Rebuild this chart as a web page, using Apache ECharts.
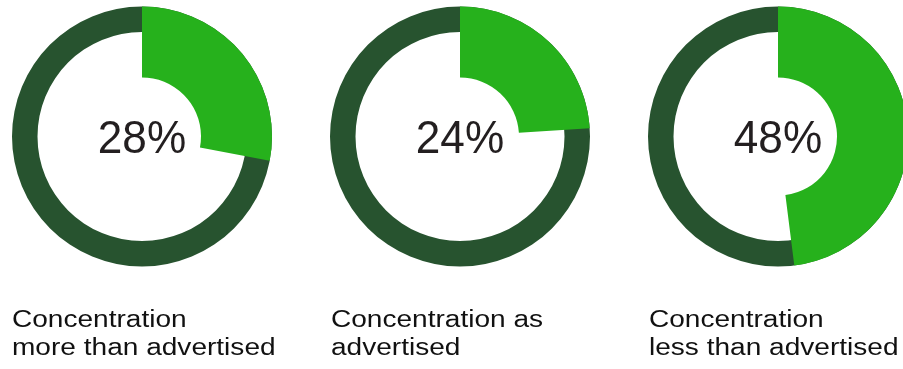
<!DOCTYPE html>
<html>
<head>
<meta charset="utf-8">
<script src="https://cdn.jsdelivr.net/npm/echarts@6/dist/echarts.min.js"></script>
<style>
  html, body { margin: 0; padding: 0; background: #ffffff; }
  #chart { width: 903px; height: 369px; }
</style>
</head>
<body>
<div id="chart"></div>
<script>
// Share of samples in each concentration group (percent)
const categories = [
  'Concentration\nmore than advertised',
  'Concentration as\nadvertised',
  'Concentration\nless than advertised'
];
const shares = [28, 24, 48];

const centersX = [142, 460, 778];
const centerY = 136.5;
const labelX = [12, 331, 649];

const DARK = '#27532f';
const BRIGHT = '#26b11c';
const TEXT = '#231f20';

const series = [];
shares.forEach(function (v, i) {
  // full dark ring underneath
  series.push({
    type: 'pie',
    center: [centersX[i], centerY],
    radius: [104.5, 130],
    silent: true,
    animation: false,
    label: { show: false },
    labelLine: { show: false },
    emphasis: { disabled: true },
    data: [{ value: 100, itemStyle: { color: DARK } }]
  });
  // highlighted share as a thick slice starting at 12 o'clock
  series.push({
    type: 'pie',
    center: [centersX[i], centerY],
    radius: [59, 130],
    startAngle: 90,
    clockwise: true,
    silent: true,
    animation: false,
    label: { show: false },
    labelLine: { show: false },
    emphasis: { disabled: true },
    data: [
      { value: v, itemStyle: { color: BRIGHT } },
      { value: 100 - v, itemStyle: { color: 'rgba(0,0,0,0)' } }
    ]
  });
});

// percentage in the middle of each ring
const centerLabels = shares.map(function (v, i) {
  return {
    type: 'text',
    x: centersX[i],
    y: 140,
    scaleX: 0.96,
    silent: true,
    style: {
      text: v + '%',
      fill: TEXT,
      font: '46px "Liberation Sans", Arial, sans-serif',
      align: 'center',
      verticalAlign: 'middle'
    }
  };
});

// two-line caption under each ring
const captions = categories.map(function (name, i) {
  return {
    type: 'text',
    x: labelX[i],
    y: 307,
    scaleX: 1.22,
    silent: true,
    style: {
      text: name,
      fill: '#111111',
      font: '23px "Liberation Sans", Arial, sans-serif',
      lineHeight: 27.5,
      align: 'left',
      verticalAlign: 'top'
    }
  };
});

const chart = echarts.init(document.getElementById('chart'), null, { renderer: 'canvas' });
chart.setOption({
  backgroundColor: '#ffffff',
  animation: false,
  series: series,
  graphic: centerLabels.concat(captions)
});
</script>
</body>
</html>
